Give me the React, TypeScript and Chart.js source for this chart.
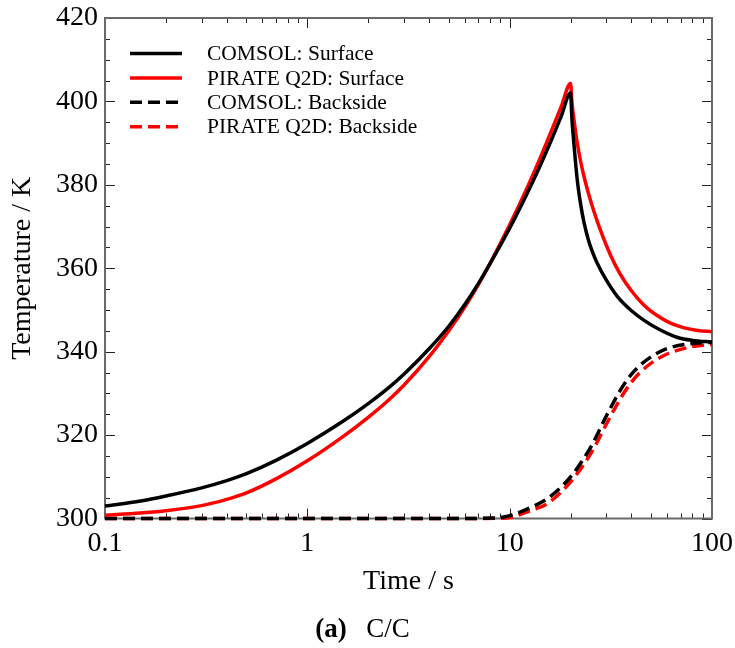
import React, { useEffect, useRef } from "react";
import { Chart, registerables } from "chart.js";

Chart.register(...registerables);

// ---- Data (time in s, temperature in K) ----
const comsolSurfaceTime = [0.1, 0.15, 0.2, 0.3, 0.4, 0.5, 0.7, 1, 1.5, 2, 2.5, 3, 4, 5, 6, 7, 8, 10, 12, 14, 16, 18, 20, 20.3, 20.8, 21.6, 22.4, 23.3, 24.5, 26, 27.2, 30, 34.1, 40, 46.2, 55, 67.6, 80, 100];
const comsolSurfaceTemp = [303.0, 304.2, 305.4, 307.35, 309.1, 310.75, 313.95, 318.0, 323.3, 327.55, 331.2, 334.6, 340.7, 346.1, 351.3, 356.3, 361.1, 369.6, 377.2, 384.1, 390.5, 396.5, 402.0, 396.0, 389.5, 381.0, 375.5, 371.0, 366.8, 363.2, 361.0, 357.2, 353.2, 349.8, 347.5, 345.3, 343.4, 342.7, 342.3];

const pirateSurfaceTime = [0.1, 0.15, 0.2, 0.3, 0.4, 0.5, 0.7, 1, 1.5, 2, 2.5, 3, 4, 5, 6, 7, 8, 10, 12, 14, 16, 18, 20, 20.3, 20.8, 21.5, 22.3, 23.3, 24.5, 26.1, 28, 31.6, 35, 39.7, 46, 53.8, 62, 73, 85, 100];
const pirateSurfaceTemp = [300.8, 301.33, 301.85, 303.08, 304.58, 306.13, 309.49, 313.83, 319.64, 324.26, 328.23, 331.95, 338.82, 345.02, 350.72, 356.08, 361.18, 370.4, 378.5, 385.9, 392.7, 398.8, 404.3, 400.0, 395.5, 390.5, 386.2, 382.0, 378.0, 373.6, 369.3, 363.0, 358.8, 354.8, 351.2, 348.6, 346.9, 345.7, 345.1, 344.8];

const comsolBackTime = [0.1, 1, 5, 8.5, 9.3, 10.2, 12.5, 15.4, 20, 25.2, 30.5, 35.5, 40, 44.5, 52, 60.4, 81.7, 100];
const comsolBackTemp = [300, 300, 300, 300.1, 300.35, 300.8, 302.5, 304.8, 310.0, 317.2, 325.2, 331.0, 334.6, 336.9, 339.3, 340.8, 342.0, 342.2];

const pirateBackTime = [0.1, 1, 5, 9, 10.2, 12.5, 15.4, 20, 25.2, 30.5, 35.5, 40, 44.5, 52, 60.4, 81.7, 100];
const pirateBackTemp = [300, 300, 300, 300.05, 300.3, 301.8, 303.6, 308.8, 315.6, 323.2, 329.0, 332.7, 335.2, 337.8, 339.5, 341.3, 341.7];

const seriesLabels = ["COMSOL: Surface", "PIRATE Q2D: Surface", "COMSOL: Backside", "PIRATE Q2D: Backside"];
const seriesColors = ["#000000", "#ff0000", "#000000", "#ff0000"];
const seriesDashed = [false, false, true, true];

const xTickValues = [0.1, 1, 10, 100];
const xTickLabels = ["0.1", "1", "10", "100"];
const yMin = 300;
const yMax = 420;
const yStep = 20;
const yMinorStep = 5;

const xTitle = "Time / s";
const yTitle = "Temperature / K";
const captionBold = "(a)";
const captionText = "C/C";

const SERIF = '"Liberation Serif", "Times New Roman", serif';

export default function App() {
  const ref = useRef<HTMLCanvasElement | null>(null);

  useEffect(() => {
    const canvas = ref.current;
    if (!canvas) return;

    const toPts = (t: number[], v: number[]) => t.map((x, i) => ({ x, y: v[i] }));
    const times = [comsolSurfaceTime, pirateSurfaceTime, comsolBackTime, pirateBackTime];
    const temps = [comsolSurfaceTemp, pirateSurfaceTemp, comsolBackTemp, pirateBackTemp];
    const DASH = [12, 6];

    const framePlugin = {
      id: "frameTicks",
      beforeDatasetsDraw(chart: any) {
        const { ctx, chartArea: a, scales } = chart;
        const xs = scales.x;
        const ys = scales.y;
        ctx.save();
        ctx.strokeStyle = "#222";
        ctx.lineWidth = 1;
        ctx.beginPath();
        for (let v = yMin; v <= yMax + 1e-9; v += yMinorStep) {
          const py = Math.round(ys.getPixelForValue(v)) + 0.5;
          const len = (v - yMin) % yStep === 0 ? 10 : 5;
          ctx.moveTo(a.left, py);
          ctx.lineTo(a.left + len, py);
          ctx.moveTo(a.right, py);
          ctx.lineTo(a.right - len, py);
        }
        for (let d = 0; d < xTickValues.length; d++) {
          const base = xTickValues[d];
          for (let m = 1; m <= 9; m++) {
            const v = base * m;
            if (v > xTickValues[xTickValues.length - 1] + 1e-9) break;
            const px = Math.round(xs.getPixelForValue(v)) + 0.5;
            const len = m === 1 ? 10 : 5;
            ctx.moveTo(px, a.bottom);
            ctx.lineTo(px, a.bottom - len);
            ctx.moveTo(px, a.top);
            ctx.lineTo(px, a.top + len);
          }
        }
        ctx.stroke();
        ctx.strokeStyle = "#6a6a6a";
        ctx.lineWidth = 2;
        ctx.strokeRect(a.left, a.top, a.right - a.left, a.bottom - a.top);
        ctx.restore();
      },
    };

    const legendPlugin = {
      id: "insideLegend",
      afterDatasetsDraw(chart: any) {
        const { ctx } = chart;
        ctx.save();
        const x0 = 130;
        const x1 = 182;
        const tx = 207;
        const y0 = 53.5;
        const dy = 24.4;
        ctx.font = `21.5px ${SERIF}`;
        ctx.textBaseline = "middle";
        ctx.textAlign = "left";
        seriesLabels.forEach((label, i) => {
          const y = y0 + i * dy;
          ctx.beginPath();
          ctx.setLineDash(seriesDashed[i] ? DASH : []);
          ctx.strokeStyle = seriesColors[i];
          ctx.lineWidth = 3.5;
          ctx.moveTo(x0, y);
          ctx.lineTo(x1, y);
          ctx.stroke();
          ctx.setLineDash([]);
          ctx.fillStyle = "#000";
          ctx.fillText(label, tx, y + 1);
        });
        ctx.restore();
      },
    };

    const captionPlugin = {
      id: "caption",
      afterDraw(chart: any) {
        const { ctx } = chart;
        ctx.save();
        ctx.fillStyle = "#000";
        ctx.textBaseline = "middle";
        ctx.textAlign = "center";
        ctx.font = `bold 27px ${SERIF}`;
        ctx.fillText(captionBold, 331, 630);
        ctx.font = `27px ${SERIF}`;
        ctx.fillText(captionText, 388, 630);
        ctx.restore();
      },
    };

    const chart = new Chart(canvas, {
      type: "line",
      data: {
        datasets: seriesLabels.map((label, i) => ({
          label,
          data: toPts(times[i], temps[i]),
          borderColor: seriesColors[i],
          backgroundColor: seriesColors[i],
          borderWidth: 3.5,
          borderDash: seriesDashed[i] ? DASH : [],
          pointRadius: 0,
          fill: false,
          cubicInterpolationMode: "monotone" as const,
          clip: 4,
        })),
      },
      options: {
        animation: false,
        responsive: false,
        devicePixelRatio: 1,
        layout: { padding: { left: 0, right: 23, top: 18, bottom: 46 } },
        plugins: {
          legend: { display: false },
          tooltip: { enabled: false },
        },
        scales: {
          x: {
            type: "logarithmic",
            min: 0.1,
            max: 100,
            grid: { display: false, drawTicks: false },
            border: { display: false },
            afterBuildTicks: (scale: any) => {
              scale.ticks = xTickValues.map((v) => ({ value: v, major: true }));
            },
            afterFit: (scale: any) => {
              scale.height = 83.5;
              scale.paddingLeft = 0;
              scale.paddingRight = 0;
            },
            ticks: {
              autoSkip: false,
              maxRotation: 0,
              padding: 8,
              color: "#000",
              font: { family: SERIF, size: 28 },
              callback: (v: any) => {
                const idx = xTickValues.findIndex((t) => Math.abs(t - Number(v)) < 1e-9);
                return idx >= 0 ? xTickLabels[idx] : "";
              },
            },
            title: {
              display: true,
              text: xTitle,
              color: "#000",
              font: { family: SERIF, size: 28 },
              padding: { top: 4, bottom: 4 },
            },
          },
          y: {
            type: "linear",
            min: yMin,
            max: yMax,
            grid: { display: false, drawTicks: false },
            border: { display: false },
            afterFit: (scale: any) => {
              scale.width = 105;
              scale.paddingTop = 0;
              scale.paddingBottom = 0;
            },
            ticks: {
              stepSize: yStep,
              padding: 7,
              color: "#000",
              font: { family: SERIF, size: 28 },
            },
            title: {
              display: true,
              text: yTitle,
              color: "#000",
              font: { family: SERIF, size: 28 },
              padding: { top: 6, bottom: 3 },
            },
          },
        },
      },
      plugins: [framePlugin, legendPlugin, captionPlugin],
    } as any);

    return () => {
      chart.destroy();
    };
  }, []);

  return (
    <div style={{ position: "absolute", left: 0, top: 0, width: 735, height: 648, background: "#fff" }}>
      <canvas ref={ref} width={735} height={648} style={{ display: "block" }} />
    </div>
  );
}
